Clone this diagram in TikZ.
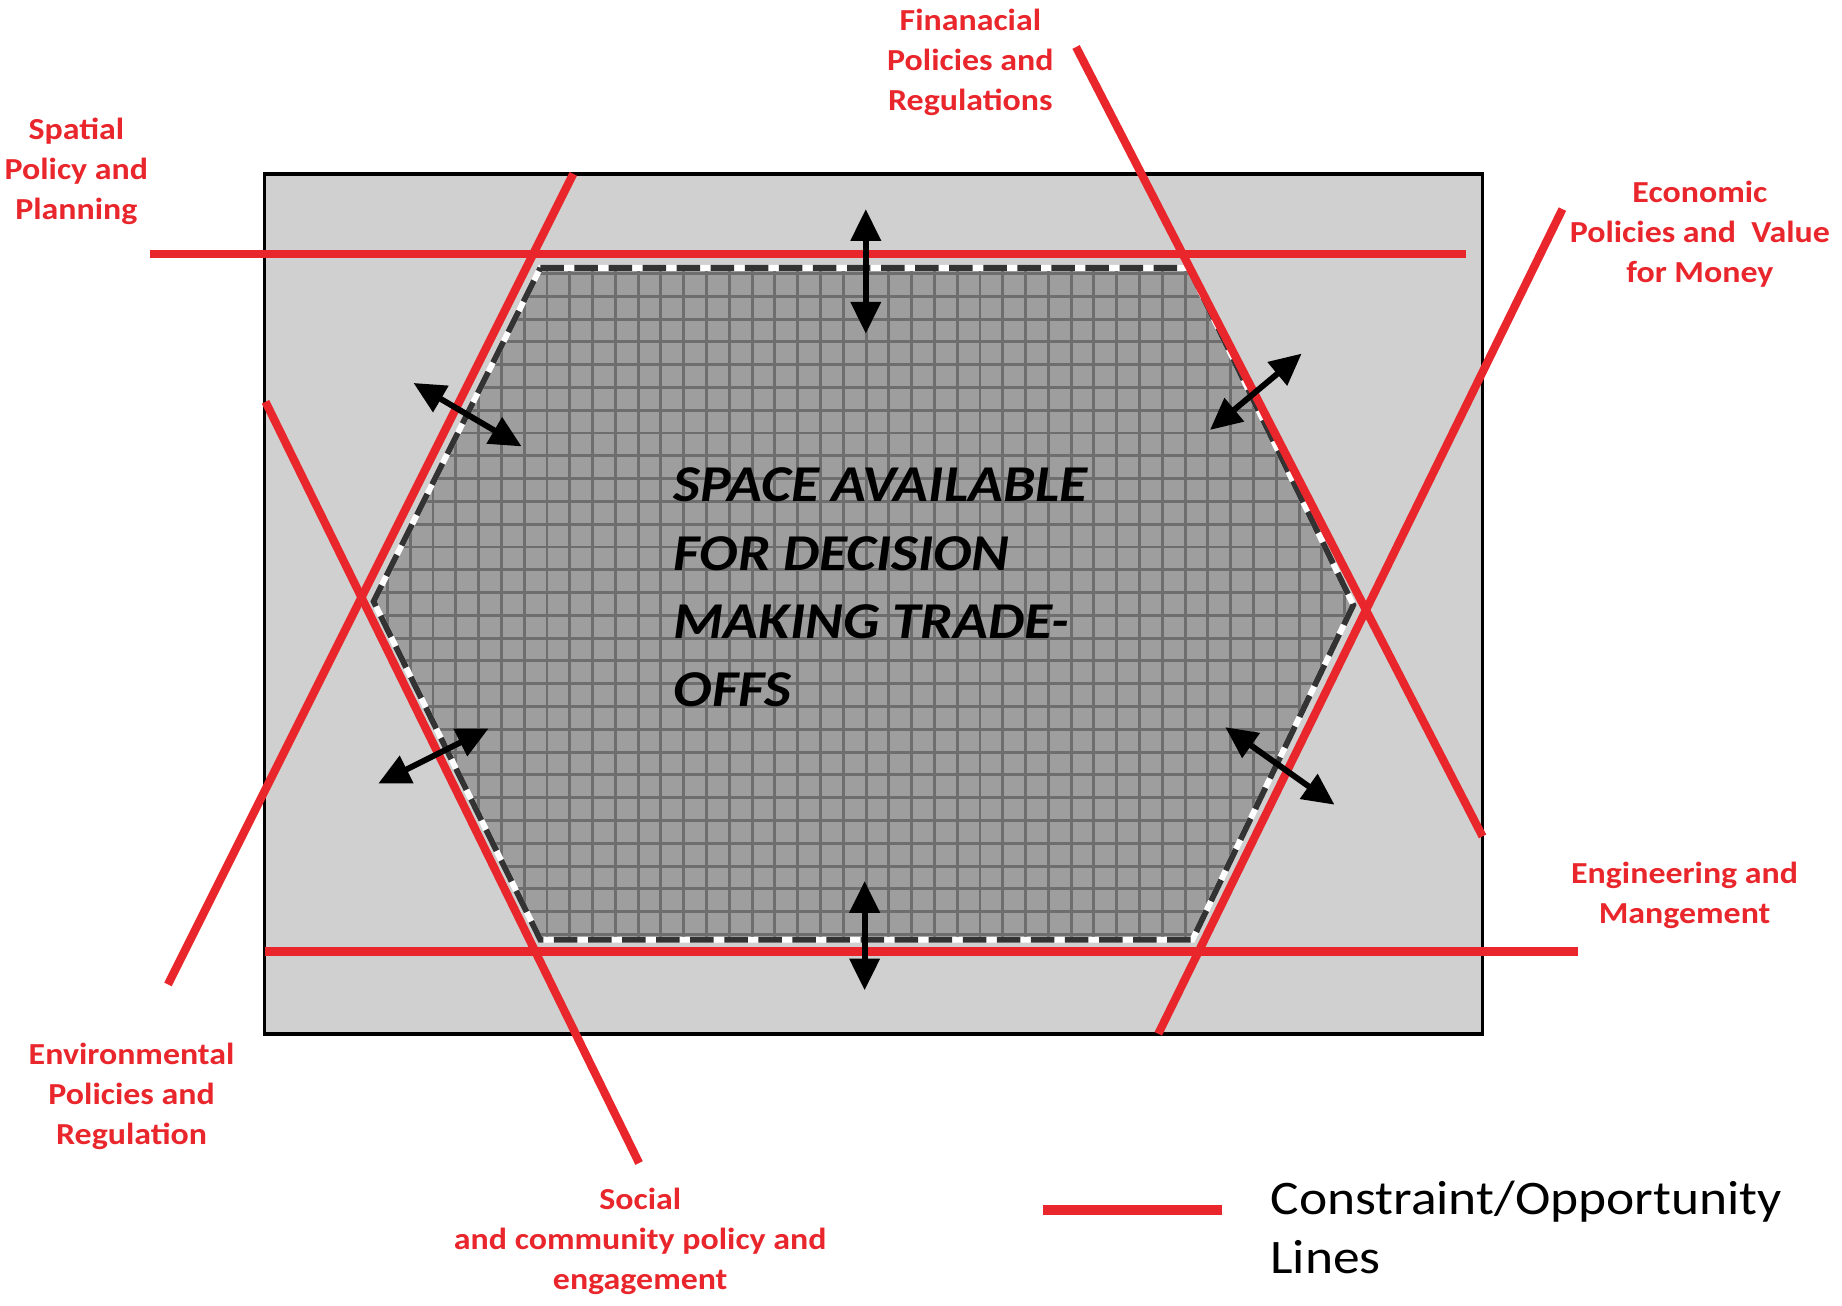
\documentclass[tikz,border=0pt]{standalone}
\usepackage{fontspec}
\setmainfont[FakeStretch=1.11]{Carlito}
\usetikzlibrary{arrows.meta}
\definecolor{redline}{HTML}{E8262B}
\definecolor{board}{HTML}{D0D0D0}
\definecolor{hexfill}{HTML}{9E9E9E}
\definecolor{hexgrid}{HTML}{6E6E6E}
\definecolor{hexedge}{HTML}{333333}
\tikzstyle{lbl}=[text=redline,font=\bfseries\fontsize{26}{34}\selectfont,align=center]
\tikzstyle{conline}=[draw=redline,line width=7pt]
\tikzstyle{dbl}=[{Triangle[length=27pt,width=25pt]}-{Triangle[length=27pt,width=25pt]},line width=5pt]

\begin{document}
\begin{tikzpicture}[x=1pt,y=-1pt]
  \useasboundingbox (0,0) rectangle (1568,1111);
  \draw [fill=board,line width=3pt] (225,148) rectangle (1262,880);
  % the decision space
  \coordinate (h1) at (460,228);
  \coordinate (h2) at (1012,228);
  \coordinate (h3) at (1152,515);
  \coordinate (h4) at (1015,800);
  \coordinate (h5) at (460,800);
  \coordinate (h6) at (318,512);
  \begin{scope}
    \clip (h1) -- (h2) -- (h3) -- (h4) -- (h5) -- (h6) -- cycle;
    \fill [hexfill] (300,210) rectangle (1170,820);
    \draw [hexgrid,line width=2.5pt] (300,210) grid [step=19.4pt] (1170,820);
  \end{scope}
  \draw [white,line width=5pt] (h1) -- (h2) -- (h3) -- (h4) -- (h5) -- (h6) -- cycle;
  \draw [hexedge,line width=5pt,dash pattern=on 20pt off 9pt] (h1) -- (h2) -- (h3) -- (h4) -- (h5) -- (h6) -- cycle;
  % constraint lines
  \coordinate (sp) at (128,216);
  \coordinate (spe) at (1248,216);
  \coordinate (en) at (1343,810);
  \coordinate (ene) at (226,810);
  \coordinate (env) at (143,838);
  \coordinate (enve) at (488,148);
  \coordinate (so) at (544,990);
  \coordinate (soe) at (226,342);
  \coordinate (fi) at (916,40);
  \coordinate (fie) at (1262,712);
  \coordinate (ec) at (1330,178);
  \coordinate (ece) at (986,880);
  \draw [conline] (sp) -- (spe);
  \draw [conline] (en) -- (ene);
  \draw [conline] (env) -- (enve);
  \draw [conline] (so) -- (soe);
  \draw [conline] (fi) -- (fie);
  \draw [conline] (ec) -- (ece);
  % moves
  \coordinate (a1) at (737,178);  \coordinate (b1) at (737,284);
  \coordinate (a2) at (736,750);  \coordinate (b2) at (736,843);
  \coordinate (a3) at (352,326);  \coordinate (b3) at (444,380);
  \coordinate (a4) at (1108,301); \coordinate (b4) at (1030,366);
  \coordinate (a5) at (416,620);  \coordinate (b5) at (322,667);
  \coordinate (a6) at (1043,619); \coordinate (b6) at (1136,685);
  \draw [dbl] (a1) -- (b1);
  \draw [dbl] (a2) -- (b2);
  \draw [dbl] (a3) -- (b3);
  \draw [dbl] (a4) -- (b4);
  \draw [dbl] (a5) -- (b5);
  \draw [dbl] (a6) -- (b6);
  \node (space) [anchor=west,align=left,font=\bfseries\itshape\fontsize{44}{58}\selectfont] at (570,500) {SPACE AVAILABLE\\FOR DECISION\\MAKING TRADE-\\OFFS};
  % labels
  \node (spatial) [lbl] at (65,146) {Spatial\\Policy and\\Planning};
  \node (financial) [lbl] at (826,53) {Finanacial\\Policies and\\Regulations};
  \node (economic) [lbl] at (1447,199) {Economic\\Policies and\ \ Value\\for Money};
  \node (engineering) [lbl] at (1434,762) {Engineering and\\Mangement};
  \node (environmental) [lbl] at (112,933) {Environmental\\Policies and\\Regulation};
  \node (social) [lbl] at (545,1057) {Social\\and community policy and\\engagement};
  % legend
  \coordinate (lg1) at (888,1030);
  \coordinate (lg2) at (1040,1030);
  \draw [draw=redline,line width=8pt] (lg1) -- (lg2);
  \node (legend) [anchor=west,align=left,font=\fontsize{41}{50}\selectfont] at (1078,1045) {Constraint/Opportunity\\Lines};
\end{tikzpicture}
\end{document}
